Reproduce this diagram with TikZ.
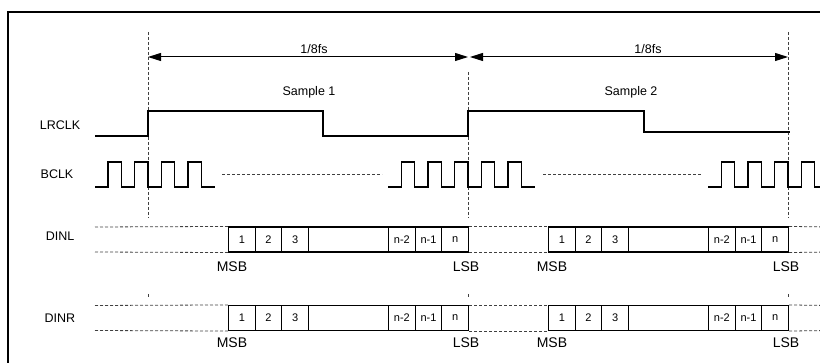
\documentclass[tikz,border=0pt]{standalone}
\usepackage{fontspec}
\setmainfont{Liberation Sans}
\usetikzlibrary{arrows.meta}
\tikzset{
  sig/.style={line width=1.1pt, line join=miter},
  guide/.style={line width=0.8pt, dash pattern=on 3pt off 2pt, draw=black!75},
  cell/.style={draw, line width=1.1pt, minimum height=25pt, inner sep=0pt, anchor=west, font=\fontsize{11}{11}\selectfont},
  lbl/.style={font=\fontsize{12.5}{12.5}\selectfont, inner sep=0pt},
  bigl/.style={font=\fontsize{14}{14}\selectfont, inner sep=0pt},
  dim/.style={line width=1pt, {Triangle[length=13pt,width=8pt]}-{Triangle[length=13pt,width=8pt]}},
}
\begin{document}
\begin{tikzpicture}[x=1pt,y=-1pt]
\useasboundingbox (0,0) rectangle (820,363);
% frame
\draw[line width=2pt] (8,370) -- (8,12) -- (830,12);
% guides
\coordinate (g1t) at (148,32);  \coordinate (g1b) at (148,218);
\coordinate (g2t) at (468,72);  \coordinate (g2b) at (468,218);
\coordinate (g3t) at (788,32);  \coordinate (g3b) at (788,218);
\draw[guide] (g1t) -- (g1b);
\draw[guide] (g2t) -- (g2b);
\draw[guide] (g3t) -- (g3b);
\coordinate (k1t) at (148,294); \coordinate (k1b) at (148,298);
\coordinate (k2t) at (468,294); \coordinate (k2b) at (468,298);
\coordinate (k3t) at (788,294); \coordinate (k3b) at (788,298);
\draw[guide] (k1t) -- (k1b);
\draw[guide] (k2t) -- (k2b);
\draw[guide] (k3t) -- (k3b);
% dimension arrows
\coordinate (a1l) at (148,57); \coordinate (a1r) at (468,57);
\coordinate (a2l) at (470,57); \coordinate (a2r) at (788,57);
\draw[dim] (a1l) -- (a1r);
\draw[dim] (a2l) -- (a2r);
\node[lbl] (fs1) at (314,49) {1/8fs};
\node[lbl] (fs2) at (648,49) {1/8fs};
\node[lbl] (smp1) at (309,92) {Sample 1};
\node[lbl] (smp2) at (631,92) {Sample 2};
% signal names
\node[lbl] (nlr) at (60,125) {LRCLK};
\node[lbl] (nbc) at (57,174) {BCLK};
\node[lbl] (ndl) at (60,236) {DINL};
\node[lbl] (ndr) at (60,318) {DINR};
% LRCLK
\draw[sig] (95,136) -- (148,136) -- (148,111) -- (323,111) -- (323,136) -- (468,136)
  -- (468,111) -- (644,111) -- (644,132) -- (790,132);
% BCLK
\draw[sig] (95,187) foreach \k in {0,...,3} { -- ({108+\k*26.667},187) -- ++(0,-25) -- ++(13.333,0) -- ++(0,25) } -- (214.67,187);
\draw[sig] (388,187) foreach \k in {0,...,4} { -- ({401.33+\k*26.667},187) -- ++(0,-25) -- ++(13.333,0) -- ++(0,25) } -- (534.67,187);
\draw[sig] (708,187) foreach \k in {0,...,3} { -- ({721.33+\k*26.667},187) -- ++(0,-25) -- ++(13.333,0) -- ++(0,25) } -- (830,187);
\coordinate (d1l) at (222,174); \coordinate (d1r) at (382,174);
\coordinate (d2l) at (543,174); \coordinate (d2r) at (702,174);
\draw[guide] (d1l) -- (d1r);
\draw[guide] (d2l) -- (d2r);
% data rows
\foreach \yc/\nm/\ly in {239.5/L/267, 318/R/343} {
  \foreach \s/\x in {1/228, 2/548} {
    \node[cell, minimum width=26.667pt] (\nm\s-a) at (\x,\yc) {1};
    \node[cell, minimum width=26.667pt] (\nm\s-b) at (\x+26.667,\yc) {2};
    \node[cell, minimum width=26.667pt] (\nm\s-c) at (\x+53.333,\yc) {3};
    \node[cell, minimum width=80pt] (\nm\s-g) at (\x+80,\yc) {};
    \node[cell, minimum width=26.667pt] (\nm\s-d) at (\x+160,\yc) {n-2};
    \node[cell, minimum width=26.667pt] (\nm\s-e) at (\x+186.667,\yc) {n-1};
    \node[cell, minimum width=26.667pt] (\nm\s-f) at (\x+213.333,\yc) {n};
    \node[bigl] (\nm\s-msb) at (\x+4,\ly) {MSB};
    \node[bigl] (\nm\s-lsb) at (\x+238,\ly) {LSB};
  }
  \coordinate (\nm-st) at (95,\yc-12.5);
  \coordinate (\nm-sb) at (95,\yc+12.5);
  \coordinate (\nm-et) at (830,\yc-12.5);
  \coordinate (\nm-eb) at (830,\yc+12.5);
  \draw[guide] (\nm-st) -- (\nm1-a.north west);
  \draw[guide] (\nm-sb) -- (\nm1-a.south west);
  \draw[guide] (\nm1-f.north east) -- (\nm2-a.north west);
  \draw[guide] (\nm1-f.south east) -- (\nm2-a.south west);
  \draw[guide] (\nm2-f.north east) -- (\nm-et);
  \draw[guide] (\nm2-f.south east) -- (\nm-eb);
}
\end{tikzpicture}
\end{document}
